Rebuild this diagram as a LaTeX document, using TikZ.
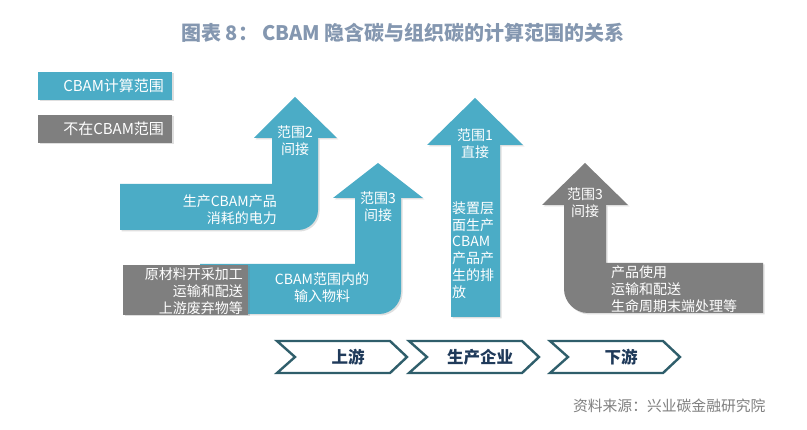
\documentclass[tikz,border=0pt]{standalone}
\usepackage{fontspec}
\setmainfont{Noto Sans CJK SC}
\usepackage{xcolor}
\usepackage{tikz}
\usetikzlibrary{shadows}

\definecolor{cbamteal}{HTML}{4BACC6}
\definecolor{outgray}{HTML}{7F7F7F}
\definecolor{chevline}{HTML}{2F5E6B}
\definecolor{chevtext}{HTML}{1F3A5A}
\definecolor{titlegray}{HTML}{8497B0}
\definecolor{srcgray}{HTML}{7F7F7F}

\tikzset{
  boxshadow/.style={drop shadow={opacity=0.25, shadow xshift=1.5pt, shadow yshift=-1.5pt}},
  lbl/.style={text=white, inner sep=0pt, font=\fontsize{14}{16.8}\selectfont},
  legendbox/.style={boxshadow, minimum height=28pt, text width=118pt, inner xsep=8pt,
    inner ysep=0pt, align=right, text=white, font=\fontsize{15}{17}\selectfont},
  chev/.style={draw=chevline, line width=2.4pt, fill=white, line join=miter},
  chevlbl/.style={text=chevtext, font=\bfseries\fontsize{16.5}{18}\selectfont},
}

\begin{document}
\begin{tikzpicture}[x=1pt, y=-1pt]
\useasboundingbox[fill=white] (0,0) rectangle (807,430);

\node[text=titlegray, font=\bfseries\fontsize{20}{22}\selectfont] (title) at (403,33)
  {图表 8：\hspace{4pt}CBAM 隐含碳与组织碳的计算范围的关系};

% legend
\node[legendbox, fill=cbamteal] (inscope) at (105,86) {CBAM计算范围};
\node[legendbox, fill=outgray] (outscope) at (105,129) {不在CBAM范围};

% scope 2, electricity
\fill[cbamteal, boxshadow] (120,184) -- (272,184) -- (272,138) -- (254,138) -- (295,97)
  -- (337,138) -- (318,138) -- (318,210) .. controls (318,221) and (309,230) .. (298,230)
  -- (120,230) -- cycle;
\node[lbl, align=center] (elecscope) at (295,141) {范围2\\间接};
\node[lbl, align=right, anchor=east] (elec) at (277,210) {生产CBAM产品\\消耗的电力};

% scope 3, upstream
\fill[cbamteal, boxshadow] (200,264) -- (355,264) -- (355,198) -- (333,198) -- (378,163)
  -- (423,198) -- (401,198) -- (401,292) .. controls (401,304) and (391,314) .. (379,314)
  -- (200,314) -- cycle;
\node[lbl, align=center] (upscope) at (378,207) {范围3\\间接};
\node[lbl, align=center] (inputs) at (322,288) {CBAM范围内的\\输入物料};

\fill[outgray, boxshadow] (123,265) rectangle (248,315);
\node[lbl, align=right, anchor=east] (upother) at (243,291) {原材料开采加工\\运输和配送\\上游废弃物等};

% scope 1, direct
\fill[cbamteal, boxshadow] (451,317) -- (451,145) -- (427,145) -- (475,98) -- (523,145)
  -- (500,145) -- (500,317) -- cycle;
\node[lbl, align=center] (directscope) at (475,144) {范围1\\直接};
\node[lbl, align=left, anchor=west] (direct) at (452,250) {装置层\\面生产\\CBAM\\产品产\\生的排\\放};

% scope 3, downstream
\fill[outgray, boxshadow] (564,205) -- (542,205) -- (585,163) -- (628,205) -- (606,205)
  -- (606,263) -- (763,263) -- (763,313) -- (588,313) .. controls (575,313) and (564,302) .. (564,289)
  -- cycle;
\node[lbl, align=center] (downscope) at (585,203) {范围3\\间接};
\node[lbl, align=left, anchor=west] (down) at (611,289) {产品使用\\运输和配送\\生命周期末端处理等};

% value chain
\foreach \L/\name [count=\i] in {277/上游, 409/生产企业, 550/下游} {
  \draw[chev] (\L,341) -- ({\L+113},341) -- ({\L+130},357) -- ({\L+113},373) -- (\L,373)
    -- ({\L+18},357) -- cycle;
  \node[chevlbl] (stage\i) at ({\L+71},357) {\name};
}

\node[anchor=east, text=srcgray, font=\fontsize{14.8}{17}\selectfont] (source) at (769,406)
  {资料来源：兴业碳金融研究院};
\end{tikzpicture}
\end{document}
